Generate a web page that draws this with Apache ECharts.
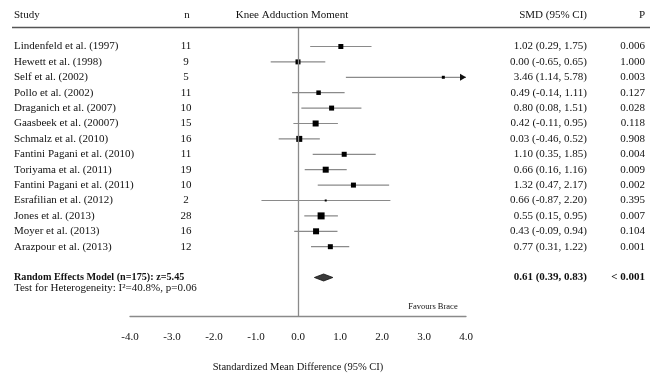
<!DOCTYPE html>
<html>
<head>
<meta charset="utf-8">
<script src="https://cdn.jsdelivr.net/npm/echarts@6/dist/echarts.min.js"></script>
<style>html,body{margin:0;padding:0;background:#fff;}#chart{width:660px;height:378px;}</style>
</head>
<body>
<div id="chart"></div>
<script>
var studies = ['Lindenfeld et al. (1997)','Hewett et al. (1998)','Self et al. (2002)','Pollo et al. (2002)','Draganich et al. (2007)','Gaasbeek et al. (20007)','Schmalz et al. (2010)','Fantini Pagani et al. (2010)','Toriyama et al. (2011)','Fantini Pagani et al. (2011)','Esrafilian et al. (2012)','Jones et al. (2013)','Moyer et al. (2013)','Arazpour et al. (2013)'];
var nValues = [11,9,5,11,10,15,16,11,19,10,2,28,16,12];
var smd = [1.02,0.00,3.46,0.49,0.80,0.42,0.03,1.10,0.66,1.32,0.66,0.55,0.43,0.77];
var lower = [0.29,-0.65,1.14,-0.14,0.08,-0.11,-0.46,0.35,0.16,0.47,-0.87,0.15,-0.09,0.31];
var upper = [1.75,0.65,5.78,1.11,1.51,0.95,0.52,1.85,1.16,2.17,2.20,0.95,0.94,1.22];
var pValues = ['0.006','1.000','0.003','0.127','0.028','0.118','0.908','0.004','0.009','0.002','0.395','0.007','0.104','0.001'];
var studyWeight = [5,5,3,4.5,5,6,6,5,6,5,2,7,6,5];
var summary = {label:'Random Effects Model (n=175): z=5.45', smd:0.61, lower:0.39, upper:0.83, p:'< 0.001'};
var heterogeneity = 'Test for Heterogeneity: I\u00b2=40.8%, p=0.06';
var xTicks = [-4,-3,-2,-1,0,1,2,3,4];

var FONT = "'Liberation Serif','Times New Roman',serif";
var TXT = '#111';
var SUMMARY_ROW = 15;
var HET_ROW = 15.7;

function fmt(v){ return v.toFixed(2); }

var chart = echarts.init(document.getElementById('chart'), null, {renderer:'canvas'});

var rowData = studies.map(function(s,i){ return [0, i]; });
var forestData = studies.map(function(s,i){ return [smd[i], i, lower[i], upper[i], studyWeight[i]]; });

var option = {
  backgroundColor:'#fff',
  animation:false,
  grid:{left:130, right:194, top:28, bottom:61},
  xAxis:{
    type:'value', min:xTicks[0], max:xTicks[xTicks.length-1], interval:1,
    axisLine:{show:true, onZero:false, lineStyle:{color:'#8a8a8a', width:1.3}},
    axisTick:{show:false}, splitLine:{show:false},
    axisLabel:{formatter:function(v){return v.toFixed(1);}, color:TXT, fontFamily:FONT, fontSize:11, margin:16},
    name:'Standardized Mean Difference (95% CI)', nameLocation:'middle', nameGap:46,
    nameTextStyle:{color:TXT, fontFamily:FONT, fontSize:10.5}
  },
  yAxis:{type:'value', min:-1.2, max:17.5, inverse:true, show:false},
  graphic:[
    {type:'line', shape:{x1:12, y1:27.5, x2:650, y2:27.5}, style:{stroke:'#555', lineWidth:1.6}},
    {type:'text', x:14, y:15, style:{text:'Study', font:'11px '+FONT, fill:TXT, verticalAlign:'middle', align:'left'}},
    {type:'text', x:187, y:15, style:{text:'n', font:'11px '+FONT, fill:TXT, verticalAlign:'middle', align:'center'}},
    {type:'text', x:292, y:15, style:{text:'Knee Adduction Moment', font:'11px '+FONT, fill:TXT, verticalAlign:'middle', align:'center'}},
    {type:'text', x:587, y:15, style:{text:'SMD (95% CI)', font:'11px '+FONT, fill:TXT, verticalAlign:'middle', align:'right'}},
    {type:'text', x:645, y:15, style:{text:'P', font:'11px '+FONT, fill:TXT, verticalAlign:'middle', align:'right'}},
    {type:'text', x:433, y:307, style:{text:'Favours Brace', font:'8.5px '+FONT, fill:TXT, verticalAlign:'middle', align:'center'}}
  ],
  series:[
    {
      type:'line', data:[], markLine:{silent:true, symbol:'none', label:{show:false},
        lineStyle:{color:'#8a8a8a', width:1.3, type:'solid'}, data:[{xAxis:0}]}
    },
    {
      type:'custom', clip:false, data:rowData,
      renderItem:function(params, api){
        var i = api.value(1);
        var y = api.coord([0, i])[1];
        var f = '11px '+FONT;
        return {type:'group', children:[
          {type:'text', x:14, y:y, style:{text:studies[i], font:f, fill:TXT, align:'left', verticalAlign:'middle'}},
          {type:'text', x:186, y:y, style:{text:String(nValues[i]), font:f, fill:TXT, align:'center', verticalAlign:'middle'}},
          {type:'text', x:587, y:y, style:{text:fmt(smd[i])+' ('+fmt(lower[i])+', '+fmt(upper[i])+')', font:f, fill:TXT, align:'right', verticalAlign:'middle'}},
          {type:'text', x:645, y:y, style:{text:pValues[i], font:f, fill:TXT, align:'right', verticalAlign:'middle'}}
        ]};
      }
    },
    {
      type:'custom', clip:false, data:forestData,
      renderItem:function(params, api){
        var v = api.value(0), i = api.value(1), lo = api.value(2), hi = api.value(3), w = api.value(4);
        var c = api.coord([v, i]);
        var l = api.coord([Math.max(lo, -4), i]);
        var u = api.coord([Math.min(hi, 4), i]);
        var ch = [
          {type:'line', shape:{x1:l[0], y1:l[1], x2:u[0], y2:u[1]}, style:{stroke:'#8a8a8a', lineWidth:1.2}}
        ];
        if (hi > 4) {
          ch.push({type:'polygon', shape:{points:[[u[0]-6, u[1]-3.5],[u[0], u[1]],[u[0]-6, u[1]+3.5]]}, style:{fill:'#111'}});
        }
        ch.push({type:'rect', shape:{x:c[0]-w/2, y:c[1]-w/2, width:w, height:w}, style:{fill:'#000'}});
        return {type:'group', children:ch};
      }
    },
    {
      type:'custom', clip:false, data:[[summary.smd, SUMMARY_ROW, summary.lower, summary.upper]],
      renderItem:function(params, api){
        var c = api.coord([api.value(0), api.value(1)]);
        var l = api.coord([api.value(2), api.value(1)]);
        var u = api.coord([api.value(3), api.value(1)]);
        var h = 3.5;
        var hy = api.coord([0, HET_ROW])[1];
        return {type:'group', children:[
          {type:'polygon', shape:{points:[[l[0], c[1]],[c[0], c[1]-h],[u[0], c[1]],[c[0], c[1]+h]]}, style:{fill:'#3a3a3a', stroke:'#111', lineWidth:0.8}},
          {type:'text', x:14, y:c[1], style:{text:summary.label, font:'bold 10.2px '+FONT, fill:TXT, align:'left', verticalAlign:'middle'}},
          {type:'text', x:587, y:c[1], style:{text:fmt(summary.smd)+' ('+fmt(summary.lower)+', '+fmt(summary.upper)+')', font:'bold 11px '+FONT, fill:TXT, align:'right', verticalAlign:'middle'}},
          {type:'text', x:645, y:c[1], style:{text:summary.p, font:'bold 11px '+FONT, fill:TXT, align:'right', verticalAlign:'middle'}},
          {type:'text', x:14, y:hy, style:{text:heterogeneity, font:'11px '+FONT, fill:TXT, align:'left', verticalAlign:'middle'}}
        ]};
      }
    }
  ]
};
chart.setOption(option);
</script>
</body>
</html>
